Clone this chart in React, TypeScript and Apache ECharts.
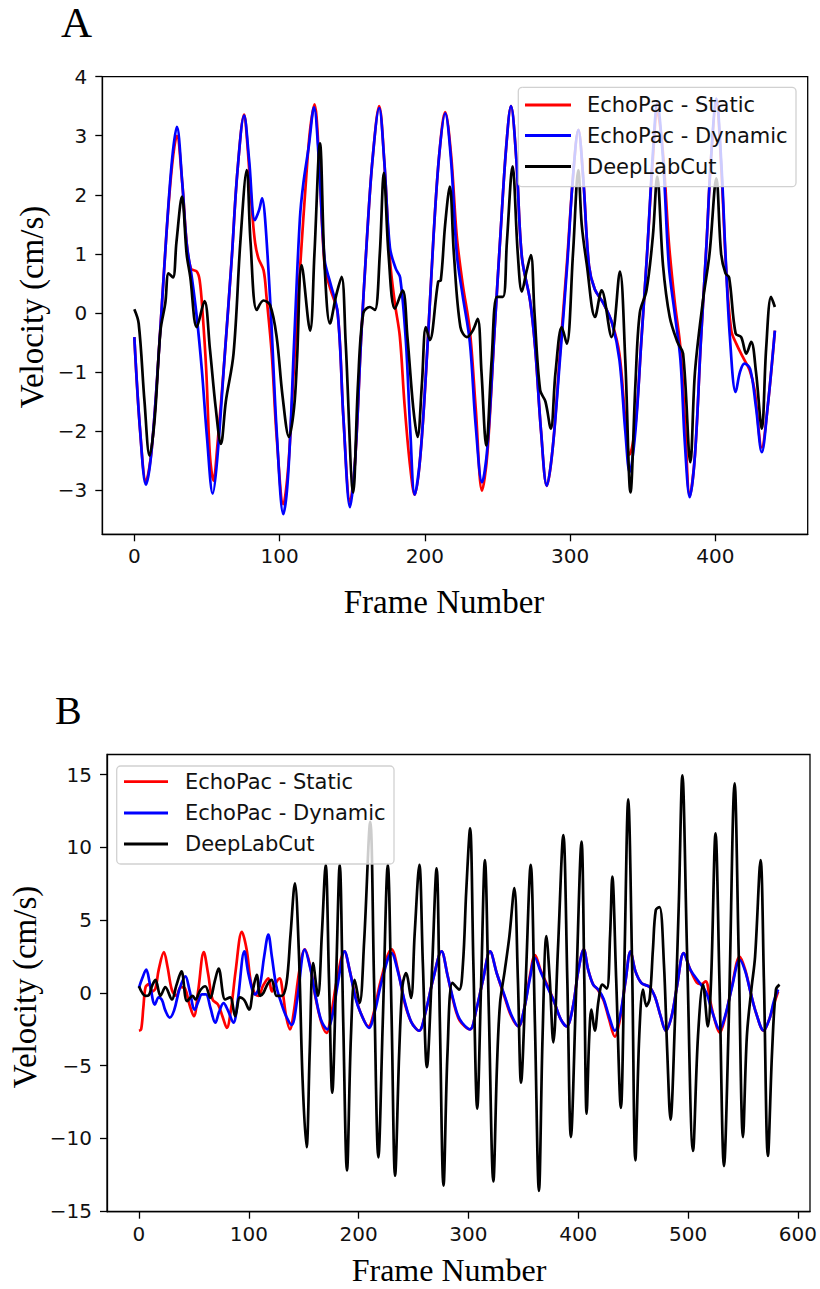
import React, { useEffect, useRef } from "react";
import * as echarts from "echarts";

// ---------- Panel A data: [frame, velocity (cm/s)] ----------
const aStatic: [number, number][] = [
  [0,-0.41],[4,-2.0],[8,-2.85],[12,-2.3],[18,-0.24],[22,1.3],[26,2.5],[29.3,3.0],[33,2.2],[36,1.2],[39,0.75],[43,0.7],[45,0.55],[47,0.0],[49.5,-0.97],[52,-2.4],[54.5,-2.84],[57,-2.3],[62,-0.8],[67,0.9],[71,2.4],[75.6,3.36],[78,2.8],[81,1.74],[83.2,1.18],[85.5,0.92],[89,0.72],[91,0.27],[94.6,-0.69],[98,-2.1],[102.6,-3.24],[106,-2.6],[109.5,-1.09],[114,0.72],[118.7,2.42],[121,3.1],[124,3.53],[127,2.7],[131,0.8],[135,0.4],[140,0.0],[144,-1.8],[148.5,-3.2],[152,-2.5],[156,-0.5],[160,1.2],[164,2.6],[168.6,3.5],[172,2.6],[176,0.9],[179.4,0.16],[182.8,-0.4],[186,-1.54],[189.7,-2.56],[193,-3.08],[197,-2.4],[202,-0.5],[206,1.3],[210,2.7],[214,3.4],[218,2.7],[222,1.3],[226,0.5],[231,-0.3],[235,-1.6],[239.4,-3.01],[243,-2.4],[248,-0.3],[252,1.3],[256,2.8],[259.3,3.5],[263,2.6],[266.8,0.95],[272.5,0.2],[276,-0.6],[280,-2.0],[284,-2.93],[288,-2.3],[293,-0.7],[298,0.9],[302,2.3],[305.7,3.1],[309,2.3],[313,0.8],[317,0.4],[323,0.16],[329,-0.18],[334,-0.7],[338,-1.8],[341,-2.4],[345,-1.9],[349,-0.5],[353,1.0],[357,2.6],[360,3.4],[364,2.7],[368,1.2],[372,0.2],[376,-0.6],[379,-1.8],[382.4,-3.1],[386,-2.4],[390,-0.5],[394,1.2],[397,2.6],[400.7,3.55],[404,2.5],[407.5,0.72],[411,-0.3],[414.4,-0.52],[419,-0.75],[423.6,-0.97],[427,-1.3],[432,-2.28],[436,-1.6],[441,-0.3]
];
const aDynamic: [number, number][] = [
  [0,-0.41],[4,-2.0],[8,-2.91],[12,-2.3],[18,-0.24],[22,1.3],[26,2.6],[29.3,3.15],[33,2.2],[36,1.18],[39.6,0.6],[43,-0.07],[46.5,-0.97],[50,-2.1],[54,-3.06],[57,-2.5],[62,-0.8],[67,0.9],[71,2.4],[75.6,3.34],[79,2.6],[83,1.57],[86,1.75],[88,1.94],[90,1.6],[94,0.0],[98,-2.0],[102.6,-3.41],[106,-2.7],[110,-0.5],[114,1.6],[116.4,2.2],[120,2.8],[123.7,3.48],[127,2.6],[131,0.9],[135,0.5],[140,0.0],[144,-1.8],[148.5,-3.29],[152,-2.5],[156,-0.5],[160,1.2],[164,2.6],[168.6,3.47],[172,2.6],[176,1.1],[180,0.75],[183,0.6],[187,-0.5],[190,-2.0],[193,-3.08],[197,-2.4],[202,-0.5],[206,1.3],[210,2.7],[214,3.38],[218,2.6],[222,1.0],[226,0.3],[231,-0.5],[235,-1.9],[239.4,-2.87],[243,-2.3],[248,-0.3],[252,1.3],[256,2.8],[259.3,3.5],[263,2.6],[266.8,0.95],[272.5,0.2],[276,-0.6],[280,-2.0],[284,-2.93],[288,-2.3],[293,-0.8],[298,0.8],[302,2.3],[305.7,3.1],[309,2.3],[313,0.8],[317,0.4],[323,0.16],[329,-0.18],[334,-0.8],[338,-2.0],[341,-2.7],[345,-2.0],[349,-0.5],[353,1.0],[357,2.7],[360,3.55],[364,2.6],[368,0.8],[372,0.0],[376,-0.8],[379,-2.2],[382.4,-3.12],[386,-2.4],[390,-0.5],[394,1.2],[397,2.6],[400.7,3.63],[404,2.6],[407,1.0],[410,-0.4],[414,-1.34],[417,-1.0],[420,-0.86],[424,-0.95],[428,-1.6],[432,-2.36],[436,-1.6],[441,-0.3]
];
const aDeepLabCut: [number, number][] = [
  [0,0.06],[3,-0.18],[7,-1.5],[10.5,-2.42],[14,-1.8],[18,-0.3],[21.3,0.16],[23.6,0.67],[26.6,0.6],[29,1.2],[32.8,1.97],[36,1.0],[38.5,0.61],[43,-0.24],[48.3,0.2],[52,-0.6],[56,-1.6],[59.6,-2.22],[63,-1.5],[68.3,-0.69],[73,1.2],[77.4,2.42],[80,1.2],[84.3,0.05],[88.9,0.21],[93.5,0.13],[98,-0.41],[102,-1.4],[106.5,-2.1],[110,-1.6],[112,-0.8],[115.2,0.81],[121,-0.3],[124,1.0],[127.8,2.87],[131,0.8],[134.7,-0.18],[139,0.3],[142.7,0.61],[145.5,-0.5],[150.7,-3.04],[154,-1.2],[157.6,-0.01],[162.2,0.1],[165.6,0.05],[169,1.0],[171.8,2.37],[175,1.0],[179.4,0.07],[184.7,0.38],[188,-0.4],[192,-1.6],[195,-2.1],[198,-1.2],[200.7,-0.24],[203.4,-0.46],[209.2,0.53],[211,0.55],[214,1.5],[217.2,2.14],[220,1.0],[224.5,-0.24],[229,-0.41],[233,-0.3],[236.4,-0.1],[239,-1.0],[242.3,-2.25],[246,-0.8],[249.7,0.27],[253.8,0.27],[256.5,1.2],[260.4,2.48],[264,1.0],[266.8,0.36],[270,0.7],[273,0.98],[275.5,0.0],[279.4,-1.31],[283,-1.5],[286.7,-1.96],[290,-1.0],[294.3,-0.24],[297.7,-0.52],[302,1.0],[305.7,2.42],[308,1.5],[311.4,0.84],[317.2,-0.07],[321.7,0.38],[328.6,-0.41],[334.3,0.7],[338,-0.8],[341.6,-3.04],[345,-1.2],[348,0.0],[352.6,0.38],[357,1.3],[360,2.31],[364,0.8],[368.6,-0.07],[374,-0.5],[377.8,-0.69],[382.8,-2.53],[386,-1.0],[391.5,0.21],[396,1.0],[400.7,2.28],[404,1.0],[407,0.67],[409.5,0.6],[414,-0.35],[417.8,-0.41],[421.3,-0.69],[424.7,-0.49],[428,-1.0],[432,-1.96],[435,-0.6],[438.4,0.27],[441,0.1]
];

// ---------- Panel B data ----------
const bStatic: [number, number][] = [
  [0,-2.6],[2,-2.5],[4,-1.0],[6,0.4],[9,0.6],[12,0.1],[15,0.3],[18,1.6],[22.7,2.8],[26,1.8],[30,0.2],[34,-0.2],[38,0.4],[42,0.3],[46,-0.8],[50,-1.6],[54,0.2],[59,2.8],[63,1.3],[67,-0.45],[72,-0.8],[76,-1.6],[80,-2.4],[84,-1.0],[88,1.5],[93.7,4.2],[98,3.0],[102,0.7],[106,-0.1],[109,-0.2],[113,0.5],[117.8,1.0],[121,0.1],[124,0.6],[128,1.0],[131,0.0],[134,-1.6],[137.5,-2.5],[141,-1.3],[146,1.5],[151,3.0],[156,1.8],[161,-0.4],[166,-2.0],[170.7,-2.74],[175,-1.5],[180,0.8],[187,2.85],[192,1.5],[197,-0.2],[202,-1.4],[209,-2.3],[214,-1.3],[220,0.8],[230,3.0],[236,1.5],[242,-0.7],[248,-2.0],[255,-2.6],[261,-1.3],[268,1.0],[275.5,2.85],[281,1.2],[286,-0.5],[292,-1.9],[301.5,-2.5],[307,-1.2],[313,0.8],[319.7,2.85],[326,1.3],[333,-0.3],[339,-1.6],[345.5,-2.3],[351,-1.0],[356,1.2],[360.6,2.6],[366,1.5],[372,0.5],[378,-0.6],[384,-1.8],[389.4,-2.3],[395,-1.0],[400,1.5],[405,3.0],[409,1.6],[413.6,0.57],[418,0.2],[423,-0.5],[428,-1.8],[433.3,-3.0],[438,-1.8],[443,0.8],[447.6,2.85],[452,1.5],[457.6,0.68],[465,0.4],[470,-0.3],[475,-1.6],[479.7,-2.6],[485,-1.6],[490,0.5],[496,2.74],[502,1.6],[508,0.7],[512,0.6],[516,0.8],[520,-0.5],[524,-1.8],[528.8,-2.74],[534,-1.6],[540,0.5],[547,2.5],[552,1.6],[557,0.0],[562,-1.4],[568.8,-2.6],[574,-1.8],[578,-0.8],[582,0.1]
];
const bDynamic: [number, number][] = [
  [0,0.35],[3,1.0],[6.6,1.6],[10,0.6],[14.5,-0.8],[18,-0.3],[21,-0.5],[24,-1.2],[28,-1.7],[32,-1.2],[37,0.3],[42.3,1.14],[46,0.2],[50.8,-1.15],[54,-0.6],[57.4,-0.1],[61,-0.1],[65,-1.0],[69.5,-2.05],[73,-1.3],[77,-0.7],[81,-1.2],[86,-2.05],[90,-0.5],[96,2.85],[100,1.2],[105.7,-0.1],[110,0.5],[114,2.5],[117.8,4.0],[121,2.5],[125,0.5],[130,-0.8],[134,-1.6],[139,-2.2],[144,-0.5],[151,2.97],[156,1.7],[161,-0.3],[166,-1.9],[171.6,-2.5],[176,-1.6],[181,0.6],[187.3,2.85],[192,1.5],[197,-0.3],[202,-1.4],[209.4,-2.4],[215,-1.2],[221,0.8],[230,2.74],[236,1.4],[242,-0.6],[248,-2.0],[255,-2.6],[261,-1.3],[268,1.0],[275.5,2.85],[281,1.2],[286,-0.4],[292,-1.8],[301.5,-2.5],[307,-1.2],[313,0.8],[319.7,2.85],[326,1.3],[333,-0.2],[339,-1.5],[345.5,-2.3],[351,-1.0],[356,1.0],[360.6,2.4],[366,1.4],[372,0.4],[378,-0.6],[384,-1.8],[389.4,-2.3],[395,-1.0],[400,1.5],[405,2.97],[409,1.6],[413.6,0.57],[418,0.25],[423,-0.4],[428,-1.6],[433.3,-2.6],[438,-1.6],[443,0.8],[447.6,2.85],[452,1.5],[457.6,0.68],[465,0.4],[470,-0.3],[475,-1.6],[479.7,-2.6],[485,-1.6],[490,0.5],[496,2.74],[502,1.6],[510.6,0.68],[516.7,0.0],[522,-1.3],[528.8,-2.5],[534,-1.5],[540,0.4],[547,2.28],[552,1.5],[557,0.0],[562,-1.4],[568.8,-2.58],[574,-1.8],[578,-0.6],[582,0.23]
];
const bDeepLabCut: [number, number][] = [
  [0,0.46],[6,-0.2],[9,-0.15],[12,0.5],[15,0.9],[19.6,-0.2],[24,0.4],[30,-0.45],[34,0.5],[38.7,1.48],[43.8,-0.57],[48.9,-0.2],[51.4,-0.45],[56,0.2],[60.4,0.46],[65,-0.35],[69,0.8],[72.5,1.67],[78.5,-0.45],[83,-0.3],[87.6,-1.6],[92,-0.3],[96,-0.5],[100.3,-1.14],[104,0.3],[107.3,1.25],[110.3,-0.2],[113.3,0.0],[117,0.6],[120.8,0.9],[125.4,-0.2],[130,-0.2],[134.4,0.7],[138,4.0],[142,7.53],[145.5,3.0],[149,-6.0],[152.6,-10.6],[155.5,-4.0],[158.6,2.05],[163,-0.2],[166.5,4.0],[170,8.8],[173,1.0],[176,-6.85],[179.5,1.0],[182.8,8.8],[186,-2.0],[189.4,-12.2],[193,-3.0],[196.4,0.9],[200.9,-0.7],[205,3.5],[210.6,11.76],[214,1.0],[218,-11.3],[222,-2.0],[226.6,8.8],[230,-1.5],[233.2,-12.56],[237,-4.0],[240,0.5],[243.2,1.37],[247.7,-0.35],[251,4.0],[255.3,8.8],[258.5,2.0],[262.2,-5.1],[266.5,1.0],[271,8.56],[274,-2.0],[277.3,-13.24],[281,-4.0],[285.5,0.7],[291.5,0.23],[295,2.0],[298,7.0],[301.5,11.3],[304.5,2.0],[308,-7.95],[311.5,0.5],[315,9.13],[318.5,-1.0],[322.7,-12.95],[326,-5.0],[328.8,-0.7],[333,1.5],[337.3,3.9],[341.8,7.2],[345,1.0],[347.9,-6.16],[352,0.5],[356.7,8.8],[360.5,-2.0],[364.2,-13.6],[367.5,-3.0],[371,3.9],[374,1.0],[377.3,-3.4],[381.5,3.0],[386.4,10.85],[390,1.0],[393.3,-9.9],[398,0.0],[403,10.4],[405.5,1.0],[407.6,-8.3],[410,-3.0],[412,-1.14],[415,-2.6],[418.5,-0.5],[422,0.57],[426,0.3],[429,4.0],[431,8.0],[434.5,1.0],[438.8,-7.9],[442,2.0],[445.5,13.3],[449,2.0],[452,-11.5],[455.5,-3.0],[459,0.23],[462,-0.9],[465,-0.4],[468,3.0],[470.6,5.7],[474,5.9],[478,2.0],[481,-4.0],[484,-8.7],[488,-2.0],[491.5,6.0],[494.8,14.95],[499,3.0],[504.5,-10.85],[509,-3.0],[513.6,0.57],[518,-2.3],[521,1.0],[525,10.96],[528.5,1.0],[532.7,-11.9],[537,-2.0],[542.4,14.4],[546,3.0],[550,-9.9],[553.5,-3.0],[557.6,0.23],[561,2.5],[566,9.13],[569,1.0],[572.7,-11.2],[576.5,-4.0],[580,0.23],[583.3,0.57]
];

// ---------- Axis ticks & labels ----------
const aXTicks = [0, 100, 200, 300, 400];
const aYTicks = [-3, -2, -1, 0, 1, 2, 3, 4];
const bXTicks = [0, 100, 200, 300, 400, 500, 600];
const bYTicks = [-15, -10, -5, 0, 5, 10, 15];
const seriesNames = ["EchoPac - Static", "EchoPac - Dynamic", "DeepLabCut"];
const seriesColors = ["#ff0000", "#0000ff", "#000000"];
const panelLetters = ["A", "B"];
const xTitle = "Frame Number";
const yTitle = "Velocity (cm/s)";

const SANS = "DejaVu Sans";
const SERIF = "Liberation Serif";
const TICK_FS = 20;
const LEGEND_FS = 21;
const TITLE_FS = 33;

const fmt = (v: number) => String(v).replace("-", "\u2212");

function xAxisCfg(gi: number, min: number, max: number, ticks: number[]) {
  return {
    gridIndex: gi, type: "value", min, max,
    axisLine: { show: true, onZero: false, lineStyle: { color: "#000", width: 1.3 } },
    axisTick: { show: true, length: 7, lineStyle: { color: "#000", width: 1.3 }, customValues: ticks },
    axisLabel: { customValues: ticks, formatter: fmt, fontFamily: SANS, fontSize: TICK_FS, color: "#111", margin: 12 },
    splitLine: { show: false },
  };
}
function yAxisCfg(gi: number, min: number, max: number, ticks: number[]) {
  return {
    gridIndex: gi, type: "value", min, max,
    axisLine: { show: true, onZero: false, lineStyle: { color: "#000", width: 1.3 } },
    axisTick: { show: true, length: 7, lineStyle: { color: "#000", width: 1.3 }, customValues: ticks },
    axisLabel: { customValues: ticks, formatter: fmt, fontFamily: SANS, fontSize: TICK_FS, color: "#111", margin: 15 },
    splitLine: { show: false },
  };
}
function lineSeries(idx: number, data: [number, number][], ci: number) {
  return {
    type: "line", name: seriesNames[ci], xAxisIndex: idx, yAxisIndex: idx, data,
    showSymbol: false, symbol: "none", smooth: 0.35, silent: true,
    lineStyle: { color: seriesColors[ci], width: 2.7 }, itemStyle: { color: seriesColors[ci] },
    z: 2 + ci,
  };
}
function legendGraphics(x: number, y: number, w: number, h: number, rows: number[], lx1: number, lx2: number, tx: number) {
  const els: any[] = [
    {
      type: "rect", z: 100,
      shape: { x, y, width: w, height: h, r: 4 },
      style: { fill: "rgba(255,255,255,0.8)", stroke: "rgba(204,204,204,0.9)", lineWidth: 1.3 },
    },
  ];
  rows.forEach((ry, i) => {
    els.push({ type: "line", z: 101, shape: { x1: lx1, y1: ry, x2: lx2, y2: ry }, style: { stroke: seriesColors[i], lineWidth: 2.8 } });
    els.push({
      type: "text", z: 101, x: tx, y: ry,
      style: { text: seriesNames[i], fill: "#111", fontFamily: SANS, fontSize: LEGEND_FS, align: "left", verticalAlign: "middle" },
    });
  });
  return els;
}
function titleText(text: string, x: number, y: number, rotated: boolean, fs: number) {
  return {
    type: "text", x, y, rotation: rotated ? Math.PI / 2 : 0,
    style: { text, fill: "#000", fontFamily: SERIF, fontSize: fs, lineHeight: 28, align: "center", verticalAlign: "middle" },
  };
}

export default function App() {
  const ref = useRef<HTMLDivElement>(null);
  useEffect(() => {
    if (!ref.current) return;
    const chart = echarts.init(ref.current, null, { renderer: "svg", width: 820, height: 1289 });
    const graphic: any[] = [
      { type: "text", x: 61, y: 22.5, style: { text: panelLetters[0], fill: "#000", fontFamily: SERIF, fontSize: 43, align: "left", verticalAlign: "middle" } },
      { type: "text", x: 55, y: 710, style: { text: panelLetters[1], fill: "#000", fontFamily: SERIF, fontSize: 40, align: "left", verticalAlign: "middle" } },
      titleText(yTitle, 31.5, 307, true, TITLE_FS),
      titleText(yTitle, 25, 987, true, TITLE_FS),
      titleText(xTitle, 444, 602, false, TITLE_FS),
      titleText(xTitle, 449, 1270, false, 32),
      ...legendGraphics(518.3, 87.3, 277.7, 99.4, [105, 135.5, 166.5], 525, 571, 587),
      ...legendGraphics(116.7, 766, 277.3, 98, [781.7, 813, 844], 124, 168, 185),
    ];
    chart.setOption({
      animation: false,
      backgroundColor: "#fff",
      grid: [
        { left: 102.3, top: 76.7, width: 705.4, height: 457.6, show: true, borderColor: "#000", borderWidth: 1.3, backgroundColor: "transparent", containLabel: false },
        { left: 107, top: 754.5, width: 708, height: 457.2, show: true, borderColor: "#000", borderWidth: 1.3, backgroundColor: "transparent", containLabel: false },
      ],
      xAxis: [xAxisCfg(0, -22.05, 463.6, aXTicks), xAxisCfg(1, -29.1, 611, bXTicks)],
      yAxis: [yAxisCfg(0, -3.75, 4.0, aYTicks), yAxisCfg(1, -15.03, 16.38, bYTicks)],
      series: [
        lineSeries(0, aStatic, 0), lineSeries(0, aDynamic, 1), lineSeries(0, aDeepLabCut, 2),
        lineSeries(1, bStatic, 0), lineSeries(1, bDynamic, 1), lineSeries(1, bDeepLabCut, 2),
      ],
      graphic,
    });
    return () => chart.dispose();
  }, []);
  return <div ref={ref} style={{ position: "absolute", left: 0, top: 0, width: 820, height: 1289, background: "#fff" }} />;
}
